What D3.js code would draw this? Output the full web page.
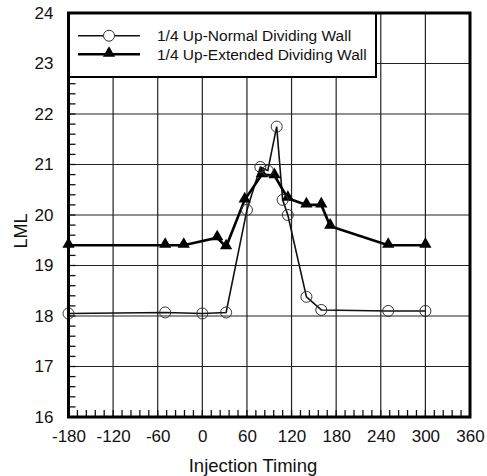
<!DOCTYPE html>
<html><head><meta charset="utf-8">
<script src="https://cdn.jsdelivr.net/npm/d3@7"></script>
<style>body{margin:0;background:#fff}svg{display:block}text{font-family:"Liberation Sans",Arial,sans-serif;fill:#111}</style>
</head><body>
<script>
const seriesNames = ["1/4 Up-Normal Dividing Wall", "1/4 Up-Extended Dividing Wall"];
const normalX = [-180, -50, 0, 32, 60, 78, 88, 100, 108, 115, 140, 160, 250, 300];
const normalY = [18.05, 18.07, 18.05, 18.07, 20.1, 20.95, 20.88, 21.75, 20.3, 20.0, 18.38, 18.12, 18.1, 18.1];
const extendedX = [-180, -50, -25, 20, 32, 57, 80, 97, 115, 140, 160, 172, 250, 300];
const extendedY = [19.4, 19.4, 19.4, 19.55, 19.37, 20.3, 20.8, 20.78, 20.33, 20.2, 20.2, 19.78, 19.4, 19.4];
const xTicks = [-180, -120, -60, 0, 60, 120, 180, 240, 300, 360];
const yTicks = [16, 17, 18, 19, 20, 21, 22, 23, 24];
const xTitle = "Injection Timing";
const yTitle = "LML";

const W = 487, H = 476;
const L = 68.5, R = 470, T = 13, B = 417;
const svg = d3.select("body").append("svg").attr("width", W).attr("height", H);
const x = d3.scaleLinear().domain([-180, 360]).range([L, R]);
const y = d3.scaleLinear().domain([16, 24]).range([B, T]);

// gridlines
const g = svg.append("g");
g.selectAll(".gx").data(xTicks).join("line")
  .attr("x1", d => x(d)).attr("x2", d => x(d)).attr("y1", T).attr("y2", B)
  .attr("stroke", "#222").attr("stroke-width", 1.2);
g.selectAll(".gy").data(yTicks).join("line")
  .attr("y1", d => y(d)).attr("y2", d => y(d)).attr("x1", L).attr("x2", R)
  .attr("stroke", "#222").attr("stroke-width", 1.2);

// minor ticks (inward)
const xMinor = d3.range(0, 46).map(i => -180 + i * 12);
const yMinor = d3.range(0, 41).map(i => 16 + i * 0.2);
const mt = svg.append("g").attr("stroke", "#111").attr("stroke-width", 1.3);
mt.selectAll(".mx").data(xMinor).join("line")
  .attr("x1", d => x(d)).attr("x2", d => x(d)).attr("y1", B).attr("y2", B - 7);
mt.selectAll(".my").data(yMinor).join("line")
  .attr("y1", d => y(d)).attr("y2", d => y(d)).attr("x1", L).attr("x2", L + 7);

// tick labels
const fmt = d => String(d);
const xa = svg.append("g").attr("transform", `translate(0,${B})`)
  .call(d3.axisBottom(x).tickValues(xTicks).tickSize(0).tickPadding(13).tickFormat(fmt));
xa.select(".domain").remove();
xa.selectAll("text").style("font-size", "17px").attr("fill", "#111");
const ya = svg.append("g").attr("transform", `translate(${L},0)`)
  .call(d3.axisLeft(y).tickValues(yTicks).tickSize(0).tickPadding(15).tickFormat(fmt));
ya.select(".domain").remove();
ya.selectAll("text").style("font-size", "17px").attr("fill", "#111");

// lines
const line = d3.line().x(d => x(d[0])).y(d => y(d[1]));
const nData = normalX.map((v, i) => [v, normalY[i]]);
const eData = extendedX.map((v, i) => [v, extendedY[i]]);
svg.append("path").datum(nData).attr("d", line).attr("fill", "none")
  .attr("stroke", "#111").attr("stroke-width", 1.6);
svg.append("path").datum(eData).attr("d", line).attr("fill", "none")
  .attr("stroke", "#000").attr("stroke-width", 2.6);
const tri = d3.symbol().type(d3.symbolTriangle).size(65);
svg.append("g").selectAll("path").data(eData).join("path")
  .attr("d", tri).attr("transform", d => `translate(${x(d[0])},${y(d[1]) - 1})`).attr("fill", "#000");
svg.append("g").selectAll("circle").data(nData).join("circle")
  .attr("cx", d => x(d[0])).attr("cy", d => y(d[1])).attr("r", 5.5)
  .attr("fill", "none").attr("stroke", "#333").attr("stroke-width", 1);

// legend
const lg = svg.append("g");
lg.append("rect").attr("x", L).attr("y", T).attr("width", 376 - L).attr("height", 77 - T)
  .attr("fill", "#fff").attr("stroke", "#000").attr("stroke-width", 2);
const rows = [35.7, 54.3];
lg.append("line").attr("x1", 78).attr("x2", 140).attr("y1", rows[0]).attr("y2", rows[0])
  .attr("stroke", "#111").attr("stroke-width", 1.6);
lg.append("circle").attr("cx", 109).attr("cy", rows[0]).attr("r", 5.5).attr("fill", "#fff")
  .attr("stroke", "#333").attr("stroke-width", 1);
lg.append("line").attr("x1", 78).attr("x2", 140).attr("y1", rows[1]).attr("y2", rows[1])
  .attr("stroke", "#000").attr("stroke-width", 2.6);
lg.append("path").attr("d", tri).attr("transform", `translate(109,${rows[1] - 1})`).attr("fill", "#000");
lg.selectAll("text").data(seriesNames).join("text")
  .attr("x", 157).attr("y", (d, i) => rows[i]).attr("dy", "0.36em")
  .style("font-size", "15.5px").text(d => d);

// frame
svg.append("rect").attr("x", L).attr("y", T).attr("width", R - L).attr("height", B - T)
  .attr("fill", "none").attr("stroke", "#000").attr("stroke-width", 3);

// axis titles
svg.append("text").attr("x", 253).attr("y", 465).attr("dy", "0.36em").attr("text-anchor", "middle")
  .style("font-size", "18.5px").text(xTitle);
svg.append("text").attr("transform", "translate(21,231) rotate(-90)").attr("dy", "0.36em")
  .attr("text-anchor", "middle").style("font-size", "18px").text(yTitle);
</script>
</body></html>
